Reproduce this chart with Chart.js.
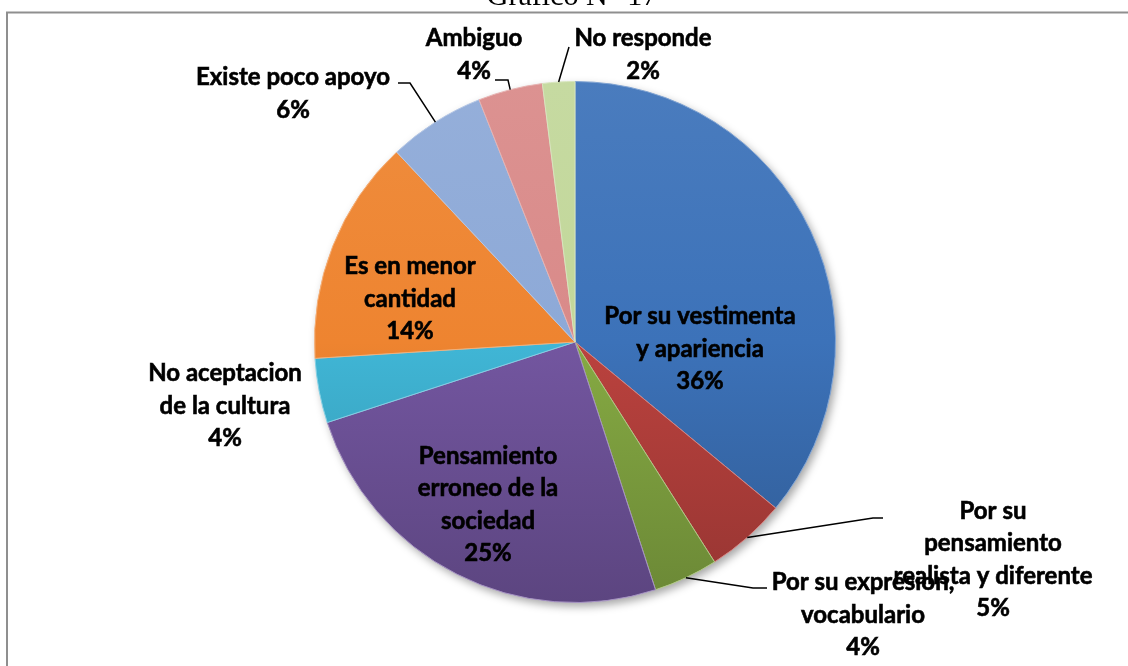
<!DOCTYPE html>
<html>
<head>
<meta charset="utf-8">
<script src="https://cdn.jsdelivr.net/npm/chart.js@4/dist/chart.umd.min.js"></script>
<style>
  html, body { margin: 0; padding: 0; background: #fff; }
  #wrap { position: relative; width: 1128px; height: 666px; }
</style>
</head>
<body>
<div id="wrap"><canvas id="pie" width="1128" height="666"></canvas></div>
<script>
// --- data ---
const chartTitle = 'Gráfico N° 17';
const categories = [
    ['Por su vestimenta', 'y apariencia'],
    ['Por su', 'pensamiento', 'realista y diferente'],
    ['Por su expresion,', 'vocabulario'],
    ['Pensamiento', 'erroneo de la', 'sociedad'],
    ['No aceptacion', 'de la cultura'],
    ['Es en menor', 'cantidad'],
    ['Existe poco apoyo'],
    ['Ambiguo'],
    ['No responde']
];
const percents = [36, 5, 4, 25, 4, 14, 6, 4, 2];

// --- styles ---
const sliceColors = ['#3C72B9', '#BB423E', '#86AA43', '#7356A0', '#40B6D6',
                     '#EE8430', '#8DA9D7', '#D98A89', '#C2D79A'];
// label block centre, relative to pie centre
const labelOffsets = [[125, 7], [418, 218], [288, 273], [-87, 163], [-350, 64],
                      [-165, -43], [-282, -248], [-101, -287], [68, -287]];
// leader lines: points after the arc edge, relative to pie centre (null = none)
const leaders = [null, [[298, 176], [308, 176]], [[178, 246], [192, 246]], null, null,
                 null, [[-165, -259], [-177, -259]], [[-67, -262], [-80, -262]], [[-6, -295]]];

const FONT = 'bold 24px Lato';
const LINE_H = 32.5;

function shade(hex, amt) {
    const n = parseInt(hex.slice(1), 16);
    let r = n >> 16, g = (n >> 8) & 255, b = n & 255;
    const f = c => Math.round(amt >= 0 ? c + (255 - c) * amt : c * (1 + amt));
    return `rgb(${f(r)},${f(g)},${f(b)})`;
}

const framePlugin = {
    id: 'frame',
    beforeDraw(chart) {
        const c = chart.ctx;
        c.save();
        c.strokeStyle = '#8f8f8f';
        c.lineWidth = 2;
        c.beginPath();
        c.moveTo(7, 700); c.lineTo(7, 12.5); c.lineTo(1140, 12.5);
        c.stroke();
        c.fillStyle = '#000';
        c.font = '30px "Liberation Serif"';
        c.textAlign = 'center';
        c.textBaseline = 'alphabetic';
        c.fillText(chartTitle, 572, 5);
        c.restore();
    },
    beforeDatasetsDraw(chart) {
        const arc = chart.getDatasetMeta(0).data[0];
        if (!arc) return;
        const c = chart.ctx;
        c.save();
        c.shadowColor = 'rgba(0,0,0,0.35)';
        c.shadowBlur = 8;
        c.shadowOffsetX = 3;
        c.shadowOffsetY = 4;
        c.fillStyle = '#fff';
        c.beginPath();
        c.arc(arc.x, arc.y, arc.outerRadius, 0, Math.PI * 2);
        c.fill();
        c.restore();
    }
};

const labelPlugin = {
    id: 'sliceLabels',
    afterDatasetsDraw(chart) {
        const c = chart.ctx;
        const arcs = chart.getDatasetMeta(0).data;
        c.save();
        c.font = FONT;
        c.fillStyle = '#000';
        c.textAlign = 'center';
        c.textBaseline = 'middle';
        arcs.forEach((arc, i) => {
            const cx = arc.x, cy = arc.y;
            const pts = leaders[i];
            if (pts) {
                const mid = (arc.startAngle + arc.endAngle) / 2;
                c.strokeStyle = '#000';
                c.lineWidth = 1.5;
                c.beginPath();
                c.moveTo(cx + Math.cos(mid) * arc.outerRadius, cy + Math.sin(mid) * arc.outerRadius);
                pts.forEach(p => c.lineTo(cx + p[0], cy + p[1]));
                c.stroke();
            }
            const lines = categories[i].concat([percents[i] + '%']);
            const [dx, dy] = labelOffsets[i];
            const y0 = cy + dy - (lines.length - 1) * LINE_H / 2;
            c.strokeStyle = '#000';
            c.lineWidth = 0.6;
            lines.forEach((t, k) => {
                c.fillText(t, cx + dx, y0 + k * LINE_H);
                c.strokeText(t, cx + dx, y0 + k * LINE_H);
            });
        });
        c.restore();
    }
};

function sliceFill(ctx) {
    const chart = ctx.chart;
    const area = chart.chartArea;
    const base = sliceColors[ctx.dataIndex];
    if (!area) return base;
    const g = chart.ctx.createLinearGradient(0, area.top, 0, area.bottom);
    g.addColorStop(0, shade(base, 0.07));
    g.addColorStop(0.5, base);
    g.addColorStop(1, shade(base, -0.2));
    return g;
}

new Chart(document.getElementById('pie'), {
    type: 'pie',
    data: {
        labels: categories.map(l => l.join(' ')),
        datasets: [{
            data: percents,
            backgroundColor: sliceFill,
            borderColor: sliceColors.map(col => shade(col, 0.35)),
            borderWidth: 1,
            hoverOffset: 0
        }]
    },
    options: {
        responsive: false,
        animation: false,
        layout: { padding: { left: 314, right: 292, top: 81, bottom: 63 } },
        plugins: {
            legend: { display: false },
            tooltip: { enabled: false },
            title: { display: false }
        }
    },
    plugins: [framePlugin, labelPlugin]
});
</script>
</body>
</html>
